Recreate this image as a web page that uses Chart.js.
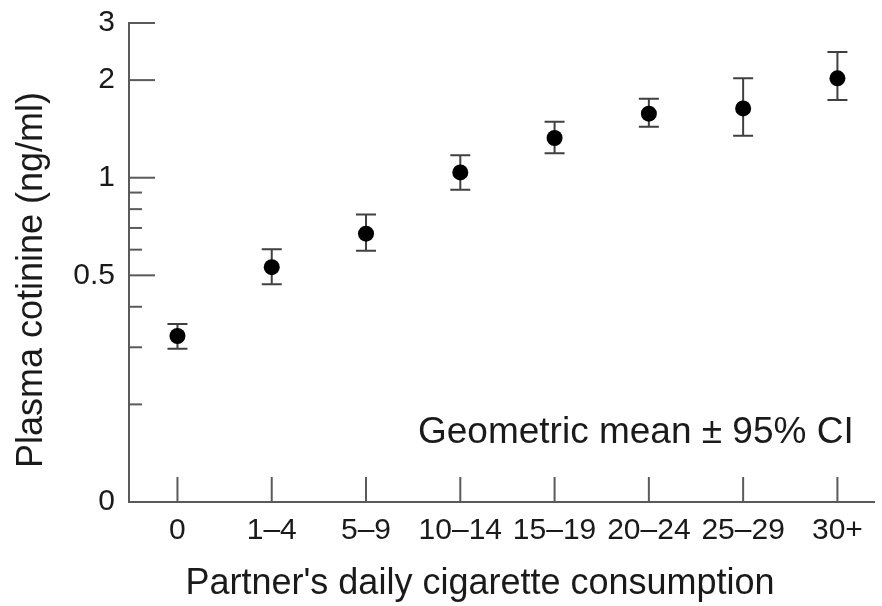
<!DOCTYPE html>
<html><head><meta charset="utf-8">
<script src="https://cdn.jsdelivr.net/npm/chart.js@4/dist/chart.umd.min.js"></script>
<style>html,body{margin:0;padding:0;background:#fff;} #wrap{width:882px;height:606px;position:relative;}</style>
</head><body><div id="wrap"><canvas id="c" width="882" height="606"></canvas></div>
<script>
const categories = ["0", "1–4", "5–9", "10–14", "15–19", "20–24", "25–29", "30+"];
const geoMean = [0.325, 0.530, 0.672, 1.038, 1.326, 1.576, 1.636, 2.025];
const ciLower = [0.297, 0.469, 0.595, 0.918, 1.189, 1.437, 1.348, 1.737];
const ciUpper = [0.354, 0.602, 0.770, 1.172, 1.489, 1.753, 2.025, 2.443];
const yMajorTicks = [0.1, 0.5, 1, 2, 3];
const yMajorLabels = ["0", "0.5", "1", "2", "3"];
const yMinorTicks = [0.2, 0.3, 0.4, 0.6, 0.7, 0.8, 0.9];
const xTitle = "Partner's daily cigarette consumption";
const yTitle = "Plasma cotinine (ng/ml)";
const note = "Geometric mean \u00B1 95% CI";

const FONT = '"Liberation Sans", Arial, Helvetica, sans-serif';
const AXIS = '#5a5a5a';
const INK = '#1a1a1a';

const decor = {
  id: 'decor',
  beforeDatasetsDraw(chart) {
    const ctx = chart.ctx, xs = chart.scales.x, ys = chart.scales.y, a = chart.chartArea;
    ctx.save();
    ctx.strokeStyle = AXIS; ctx.lineWidth = 2;
    yMajorTicks.forEach(v => { const y = ys.getPixelForValue(v); ctx.beginPath(); ctx.moveTo(a.left, y); ctx.lineTo(a.left + 26, y); ctx.stroke(); });
    yMinorTicks.forEach(v => { const y = ys.getPixelForValue(v); ctx.beginPath(); ctx.moveTo(a.left, y); ctx.lineTo(a.left + 13, y); ctx.stroke(); });
    categories.forEach((c, i) => { const x = xs.getPixelForValue(i); ctx.beginPath(); ctx.moveTo(x, a.bottom); ctx.lineTo(x, a.bottom - 25); ctx.stroke(); });
    ctx.strokeStyle = '#404040'; ctx.lineWidth = 2;
    categories.forEach((c, i) => {
      const x = xs.getPixelForValue(i), y1 = ys.getPixelForValue(ciLower[i]), y2 = ys.getPixelForValue(ciUpper[i]);
      ctx.beginPath();
      ctx.moveTo(x, y1); ctx.lineTo(x, y2);
      ctx.moveTo(x - 10, y1); ctx.lineTo(x + 10, y1);
      ctx.moveTo(x - 10, y2); ctx.lineTo(x + 10, y2);
      ctx.stroke();
    });
    ctx.restore();
  },
  afterDraw(chart) {
    const ctx = chart.ctx;
    ctx.save();
    ctx.fillStyle = INK;
    ctx.textBaseline = 'alphabetic';
    ctx.font = '37px ' + FONT;
    ctx.textAlign = 'left';
    ctx.fillText(note, 418, 443);
    ctx.font = '36px ' + FONT;
    ctx.textAlign = 'center';
    ctx.fillText(xTitle, 480, 594);
    ctx.translate(42, 280);
    ctx.rotate(-Math.PI / 2);
    ctx.fillText(yTitle, 0, 0);
    ctx.restore();
  }
};

new Chart(document.getElementById('c'), {
  type: 'scatter',
  data: {
    datasets: [{
      data: categories.map((c, i) => ({ x: i, y: geoMean[i] })),
      pointRadius: 8, pointHoverRadius: 8,
      backgroundColor: '#000', borderColor: '#000', borderWidth: 0
    }]
  },
  options: {
    responsive: false, animation: false, devicePixelRatio: 1,
    layout: { padding: { top: 23, right: 0, left: 0, bottom: 0 } },
    plugins: { legend: { display: false }, tooltip: { enabled: false } },
    scales: {
      x: {
        type: 'linear', position: 'bottom', min: -0.514, max: 7.388,
        grid: { display: false, drawTicks: false },
        border: { display: true, color: AXIS, width: 2 },
        afterBuildTicks: s => { s.ticks = categories.map((c, i) => ({ value: i })); },
        ticks: { callback: v => categories[v] ?? '', font: { family: FONT, size: 30 }, color: INK, padding: 11, maxRotation: 0, autoSkip: false },
        afterFit: s => { s.height = 104; s.paddingLeft = 0; s.paddingRight = 0; }
      },
      y: {
        type: 'logarithmic', min: 0.1, max: 3,
        grid: { display: false, drawTicks: false },
        border: { display: true, color: AXIS, width: 2 },
        afterBuildTicks: s => { s.ticks = [...yMajorTicks, ...yMinorTicks].sort((p, q) => p - q).map(v => ({ value: v })); },
        ticks: {
          callback: v => { const k = yMajorTicks.findIndex(t => Math.abs(t - v) < 1e-9); return k >= 0 ? yMajorLabels[k] : ''; },
          font: { family: FONT, size: 30 }, color: INK, padding: 14, autoSkip: false
        },
        afterFit: s => { s.width = 129; s.paddingTop = 0; s.paddingBottom = 0; }
      }
    }
  },
  plugins: [decor]
});
</script></body></html>
